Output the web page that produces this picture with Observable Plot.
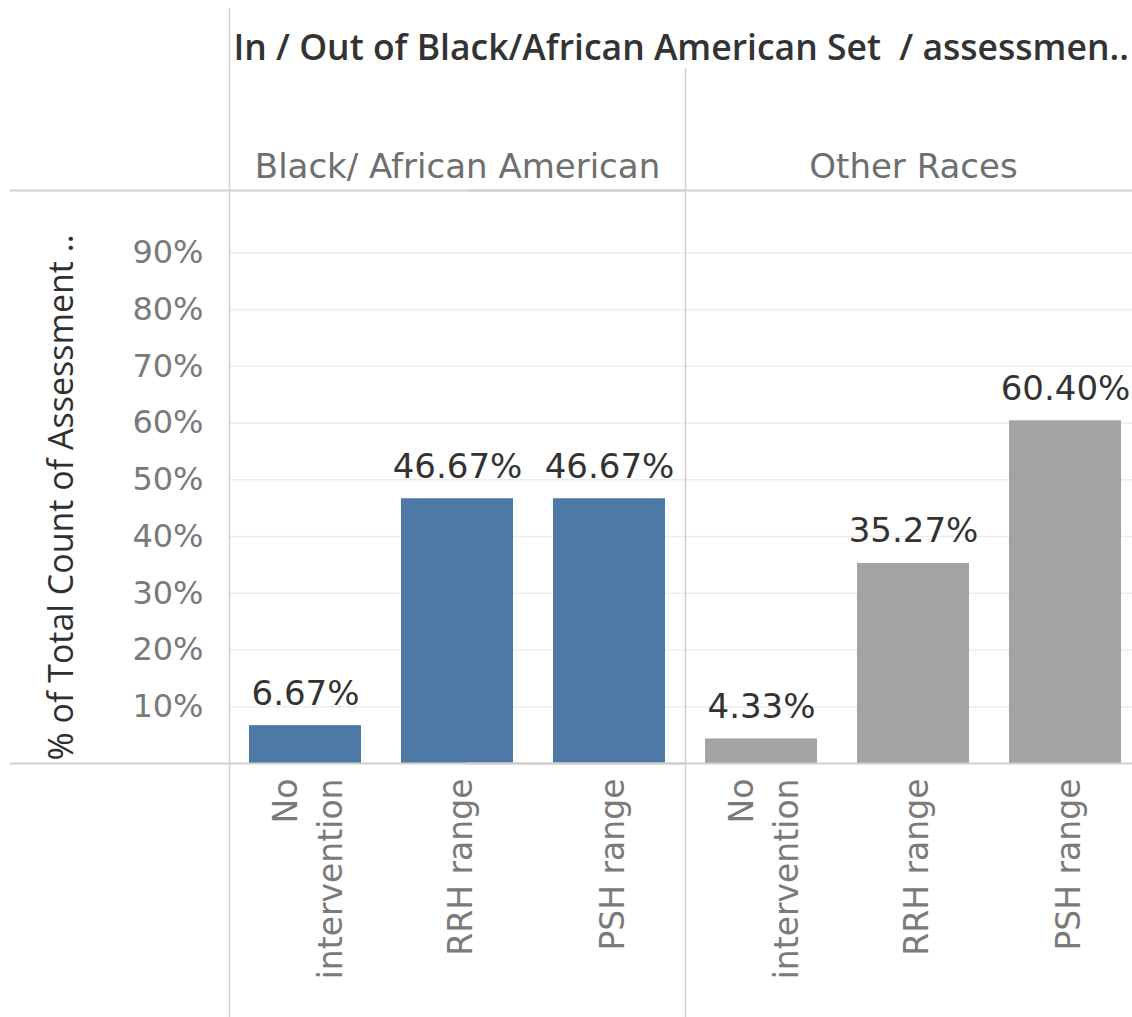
<!DOCTYPE html>
<html><head><meta charset="utf-8">
<script src="https://cdn.jsdelivr.net/npm/d3@7"></script>
<script src="https://cdn.jsdelivr.net/npm/@observablehq/plot@0.6"></script>
<style>body{margin:0;background:#fff} #chart svg{display:block}</style>
</head><body><div id="chart"></div>
<script>
const groups = ["Black/ African American", "Other Races"];
const interventions = ["No intervention", "RRH range", "PSH range"];
const tickLabels = ["No\nintervention", "RRH range", "PSH range"];
const blackValues = [0.0667, 0.4667, 0.4667];
const otherValues = [0.0433, 0.3527, 0.6040];
const yTicks = [0.1, 0.2, 0.3, 0.4, 0.5, 0.6, 0.7, 0.8, 0.9];
const groupColors = ["#4e79a7", "#a3a3a3"];
const title = "In / Out of Black/African American Set  / assessmen..";
const yTitle = "% of Total Count of Assessment ..";

const data = [
  ...interventions.map((k, i) => ({group: groups[0], intervention: k, value: blackValues[i]})),
  ...interventions.map((k, i) => ({group: groups[1], intervention: k, value: otherValues[i]}))
];

const W = 1132, H = 1017, mL = 229, mR = -9, mT = 190, mB = 254;
const facetW = (W - mL - mR) / groups.length;
const step = facetW / interventions.length;
const fmt = d3.format(".2%");
const lineColor = "#cfcfcf";
const sans = "DejaVu Sans";
const hum = "Open Sans";

const chart = Plot.plot({
  width: W, height: H,
  marginLeft: mL, marginRight: mR, marginTop: mT, marginBottom: mB,
  style: {background: "#fff"},
  fx: {domain: groups, padding: 0},
  x: {domain: interventions, paddingInner: 0.263, paddingOuter: 0.1315},
  y: {domain: [0, 1.01]},
  color: {domain: groups, range: groupColors},
  marks: [
    Plot.gridY(yTicks, {stroke: "#ececec", strokeOpacity: 1, strokeWidth: 1.5}),
    Plot.barY(data, {fx: "group", x: "intervention", y: "value", fill: "group"}),
    Plot.text(data, {fx: "group", x: "intervention", y: "value", text: d => fmt(d.value),
      dy: -32, fontSize: 34, fill: "#333", fontFamily: sans}),
    Plot.ruleY([0], {insetLeft: -219, stroke: lineColor, strokeWidth: 2}),
    Plot.ruleY([1.01], {insetLeft: -219, stroke: lineColor, strokeWidth: 2}),
    Plot.ruleX([interventions[0]], {fx: () => groups[0], dx: -step / 2, insetTop: -182, insetBottom: -254, stroke: lineColor, strokeWidth: 1.5}),
    Plot.ruleX([interventions[0]], {fx: () => groups[1], dx: -step / 2, insetTop: -122, insetBottom: -254, stroke: lineColor, strokeWidth: 1.5}),
    Plot.axisY({anchor: "left", ticks: yTicks, tickFormat: d3.format(".0%"), tickSize: 0, tickPadding: 26,
      fontSize: 32, fill: "#7a7a7a", fontFamily: sans, label: null}),
    Plot.axisX({anchor: "bottom", tickRotate: -90, tickSize: 0, tickPadding: 15,
      tickFormat: d => tickLabels[interventions.indexOf(d)], lineHeight: 1.35,
      fontSize: 33, fill: "#7a7a7a", fontFamily: sans, label: null}),
    Plot.axisFx({anchor: "top", tickSize: 0, tickPadding: 13, fontSize: 34, fill: "#6f6f6f", fontFamily: sans, label: null}),
    Plot.text([title], {fx: () => groups[0], frameAnchor: "top-left", textAnchor: "start", dx: 4, dy: -156,
      fontSize: 35.5, fontWeight: 600, fill: "#333", fontFamily: hum}),
    Plot.text([yTitle], {fx: () => groups[0], frameAnchor: "bottom-left", textAnchor: "start", rotate: -90,
      dx: -157, dy: -3, fontSize: 34, fill: "#2f2f2f", fontFamily: hum})
  ]
});
document.getElementById("chart").append(chart);
</script></body></html>
